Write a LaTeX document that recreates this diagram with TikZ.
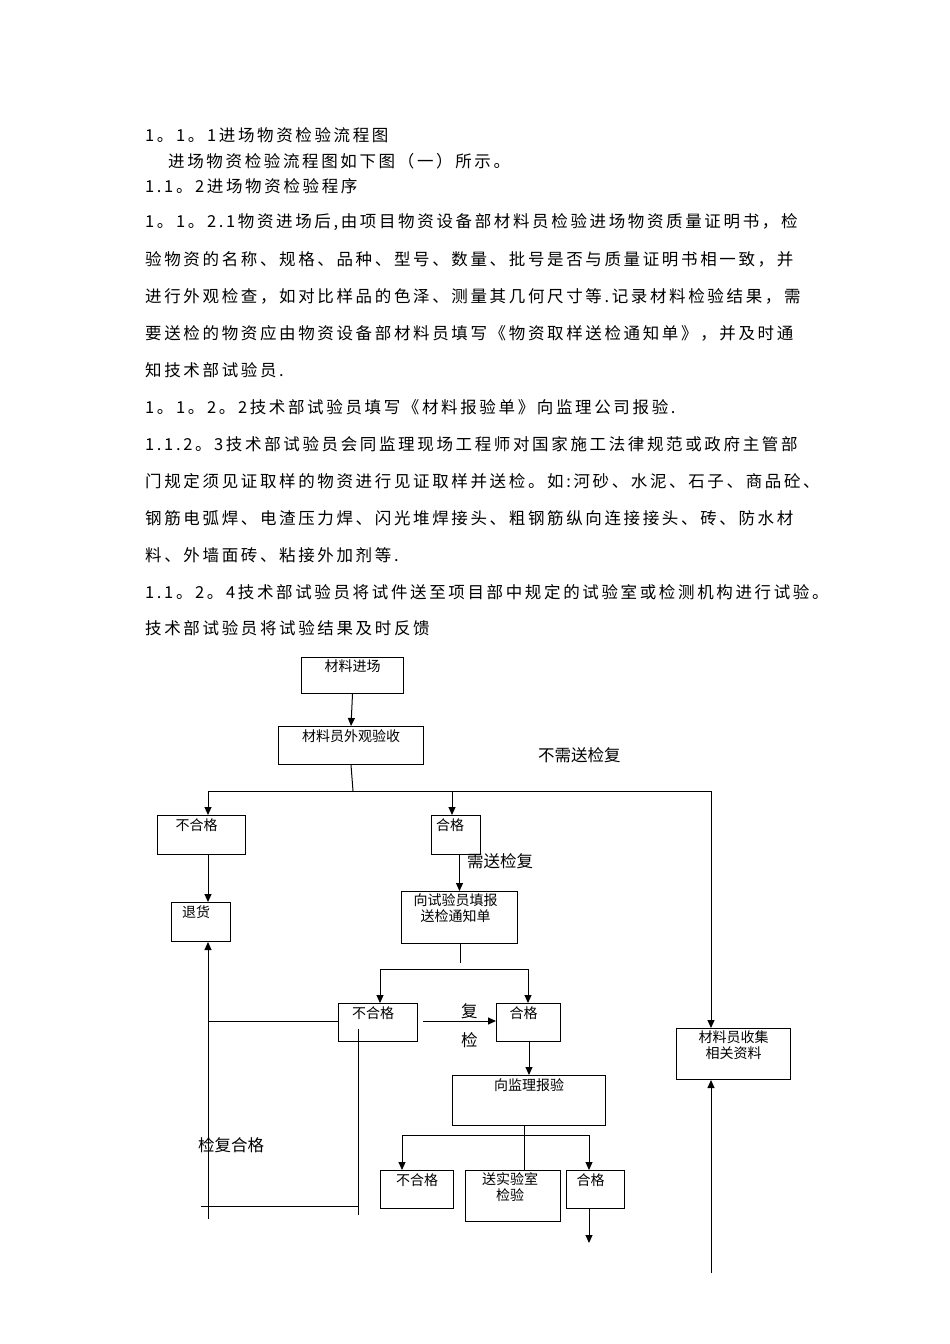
\documentclass[tikz,border=0pt]{standalone}
\usepackage{fontspec}
\setmainfont{Noto Sans CJK SC}
\newfontfamily\bodyfont[LetterSpace=16]{Noto Sans CJK SC}
\usetikzlibrary{arrows.meta}
\begin{document}
\begin{tikzpicture}[x=1pt,y=-1pt,
  box/.style={draw,line width=1pt,anchor=north west,inner sep=0pt},
  bt/.style={anchor=north,inner sep=0pt,font=\fontsize{14}{16}\selectfont,align=center},
  txt/.style={anchor=west,inner sep=0pt,font=\bodyfont\fontsize{16.5}{18}\selectfont},
  lab/.style={anchor=west,inner sep=0pt,font=\fontsize{16.5}{18}\selectfont},
  ln/.style={line width=1pt},
  ar/.style={line width=1pt,-{Triangle[length=8pt,width=7pt]}}]
\useasboundingbox (0,0) rectangle (950,1344);
\node[txt] (l1) at (145,135) {1。1。1进场物资检验流程图};
\node[txt] (l2) at (168,161) {进场物资检验流程图如下图（一）所示。};
\node[txt] (l3) at (145,186) {1.1。2进场物资检验程序};
\node[txt] (l4) at (145,222) {1。1。2.1物资进场后,由项目物资设备部材料员检验进场物资质量证明书，检};
\node[txt] (l5) at (145,259) {验物资的名称、规格、品种、型号、数量、批号是否与质量证明书相一致，并};
\node[txt] (l6) at (145,296) {进行外观检查，如对比样品的色泽、测量其几何尺寸等.记录材料检验结果，需};
\node[txt] (l7) at (145,333) {要送检的物资应由物资设备部材料员填写《物资取样送检通知单》，并及时通};
\node[txt] (l8) at (145,370) {知技术部试验员.};
\node[txt] (l9) at (145,407) {1。1。2。2技术部试验员填写《材料报验单》向监理公司报验.};
\node[txt] (l10) at (145,444) {1.1.2。3技术部试验员会同监理现场工程师对国家施工法律规范或政府主管部};
\node[txt] (l11) at (145,481) {门规定须见证取样的物资进行见证取样并送检。如:河砂、水泥、石子、商品砼、};
\node[txt] (l12) at (145,518) {钢筋电弧焊、电渣压力焊、闪光堆焊接头、粗钢筋纵向连接接头、砖、防水材};
\node[txt] (l13) at (145,555) {料、外墙面砖、粘接外加剂等.};
\node[txt] (l14) at (145,592) {1.1。2。4技术部试验员将试件送至项目部中规定的试验室或检测机构进行试验。};
\node[txt] (l15) at (145,628) {技术部试验员将试验结果及时反馈};
% boxes
\node[box,minimum width=102,minimum height=36] (a) at (301,657) {};
\node[bt] at ([yshift=-3]a.north) {材料进场};
\node[box,minimum width=145,minimum height=38] (b) at (278,726) {};
\node[bt] at ([yshift=-3]b.north) {材料员外观验收};
\node[box,minimum width=88,minimum height=39] (c) at (157,815) {};
\node[bt] at ([yshift=-3,xshift=-5]c.north) {不合格};
\node[box,minimum width=49,minimum height=39] (d) at (431,815) {};
\node[bt] at ([yshift=-3,xshift=-6]d.north) {合格};
\node[box,minimum width=59,minimum height=39] (e) at (171,902) {};
\node[bt] at ([yshift=-3,xshift=-5]e.north) {退货};
\node[box,minimum width=116,minimum height=52] (f) at (401,891) {};
\node[bt] at ([yshift=-2,xshift=-4]f.north) {向试验员填报\\送检通知单};
\node[box,minimum width=79,minimum height=38] (g) at (338,1003) {};
\node[bt] at ([yshift=-3,xshift=-5]g.north) {不合格};
\node[box,minimum width=64,minimum height=38] (h) at (496,1003) {};
\node[bt] at ([yshift=-3,xshift=-5]h.north) {合格};
\node[box,minimum width=153,minimum height=50] (i) at (452,1075) {};
\node[bt] at ([yshift=-3]i.north) {向监理报验};
\node[box,minimum width=73,minimum height=38] (j) at (380,1170) {};
\node[bt] at ([yshift=-3]j.north) {不合格};
\node[box,minimum width=95,minimum height=51] (k) at (465,1170) {};
\node[bt] at ([yshift=-2,xshift=-3]k.north) {送实验室\\检验};
\node[box,minimum width=58,minimum height=38] (m) at (566,1170) {};
\node[bt] at ([yshift=-3,xshift=-5]m.north) {合格};
\node[box,minimum width=114,minimum height=51] (n) at (676,1028) {};
\node[bt] at ([yshift=-2]n.north) {材料员收集\\相关资料};
% labels
\node[lab] (t1) at (538,755) {不需送检复};
\node[lab] (t2) at (467,861) {需送检复};
\node[lab] (t3) at (461,1011) {复};
\node[lab] (t4) at (461,1040) {检};
\node[lab] (t5) at (198,1145) {检复合格};
% coordinates
\coordinate (p1) at (353,791);
\coordinate (p2) at (208,791);
\coordinate (p3) at (452,791);
\coordinate (p4) at (711,791);
\coordinate (q1) at (460,969);
\coordinate (q2) at (380,969);
\coordinate (q3) at (528,969);
\coordinate (r1) at (208,1021);
\coordinate (r2) at (208,1219);
\coordinate (s1) at (358,1029);
\coordinate (s2) at (358,1215);
\coordinate (s3) at (358,1206);
\coordinate (s4) at (201,1206);
\coordinate (u1) at (524,1135);
\coordinate (u2) at (402,1135);
\coordinate (u3) at (589,1135);
\coordinate (u4) at (589,1243);
\coordinate (v1) at (711,1273);
\coordinate (w1) at (423,1021);
% connectors
\draw[ar] (a.south) -- (b.north);
\draw[ln] (b.south) -- (p1);
\draw[ln] (p2) -- (p4);
\draw[ar] (p2) -- (c.north-|p2);
\draw[ar] (p3) -- (d.north-|p3);
\draw[ar] (p4) -- (n.north-|p4);
\draw[ar] (c.south-|p2) -- (e.north-|p2);
\draw[ar] (d.south-|f.north) -- (f.north);
\draw[ln] (f.south-|q1) -- ([yshift=6]q1);
\draw[ln] (q2) -- (q3);
\draw[ar] (q2) -- (g.north-|q2);
\draw[ar] (q3) -- (h.north-|q3);
\draw[ar] (w1) -- (h.west|-w1);
\draw[ln] (g.west|-r1) -- (r1);
\draw[ar] (r2) -- (e.south-|r2);
\draw[ln] (s1) -- (s2);
\draw[ln] (s4) -- (s3);
\draw[ar] (h.south-|i.north) -- (i.north);
\draw[ln] (i.south-|u1) -- (k.north-|u1);
\draw[ln] (u2) -- (u3);
\draw[ar] (u2) -- (j.north-|u2);
\draw[ar] (u3) -- (m.north-|u3);
\draw[ar] (m.south-|u4) -- (u4);
\draw[ar] (v1) -- (n.south-|v1);
\end{tikzpicture}
\end{document}
